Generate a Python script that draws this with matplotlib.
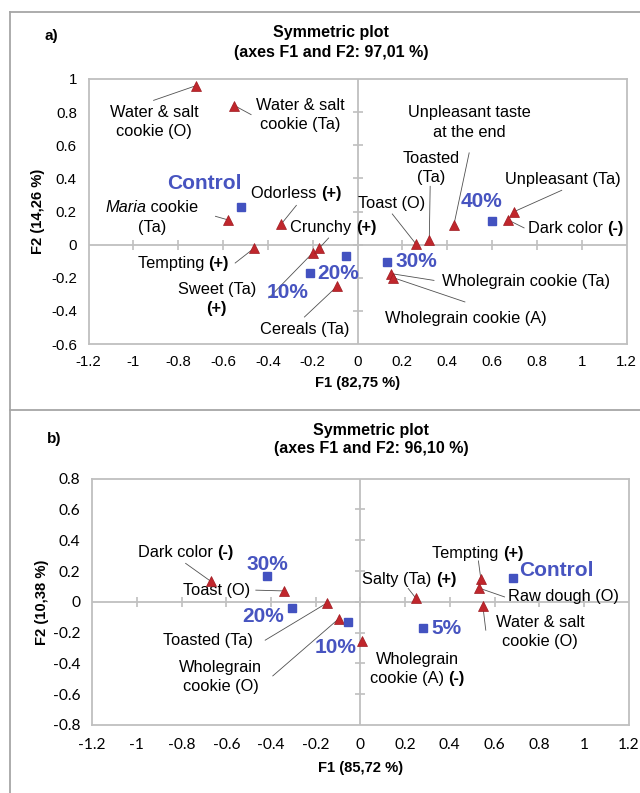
import numpy as np
import matplotlib
matplotlib.use("Agg")
import matplotlib.pyplot as plt
from matplotlib.lines import Line2D
from matplotlib.offsetbox import TextArea, HPacker, VPacker, AnnotationBbox

plt.rcParams['font.family'] = ['Liberation Sans', 'DejaVu Sans']

# ---------------- DATA ----------------
# Panel a
a_attr_names = ["Water & salt cookie (O)", "Water & salt cookie (Ta)", "Maria cookie (Ta)",
                "Odorless (+)", "Tempting (+)", "Sweet (Ta) (+)", "Crunchy (+)", "Cereals (Ta)",
                "Toast (O)", "Toasted (Ta)", "Unpleasant taste at the end", "Dark color (-)",
                "Unpleasant (Ta)", "Wholegrain cookie (Ta)", "Wholegrain cookie (A)"]
a_attr_x = [-0.72, -0.55, -0.58, -0.34, -0.46, -0.20, -0.17, -0.09,
            0.26, 0.32, 0.43, 0.67, 0.70, 0.15, 0.16]
a_attr_y = [0.96, 0.84, 0.15, 0.125, -0.02, -0.05, -0.02, -0.25,
            0.005, 0.025, 0.12, 0.15, 0.20, -0.175, -0.20]
a_prod_names = ["Control", "10%", "20%", "30%", "40%"]
a_prod_x = [-0.52, -0.05, -0.21, 0.13, 0.60]
a_prod_y = [0.23, -0.07, -0.17, -0.105, 0.145]

# Panel b
b_attr_names = ["Dark color (-)", "Toast (O)", "Toasted (Ta)", "Wholegrain cookie (O)",
                "Wholegrain cookie (A) (-)", "Salty (Ta) (+)", "Tempting (+)",
                "Raw dough (O)", "Water & salt cookie (O)"]
b_attr_x = [-0.67, -0.343, -0.148, -0.097, 0.009, 0.248, 0.539, 0.53, 0.548]
b_attr_y = [0.134, 0.071, -0.006, -0.11, -0.253, 0.024, 0.147, 0.09, -0.028]
b_prod_names = ["Control", "5%", "10%", "20%", "30%"]
b_prod_x = [0.683, 0.278, -0.055, -0.305, -0.416]
b_prod_y = [0.156, -0.167, -0.13, -0.041, 0.167]

ticks_x = [-1.2, -1.0, -0.8, -0.6, -0.4, -0.2, 0.0, 0.2, 0.4, 0.6, 0.8, 1.0, 1.2]
a_ticks_y = [-0.6, -0.4, -0.2, 0.0, 0.2, 0.4, 0.6, 0.8, 1.0]
b_ticks_y = [-0.8, -0.6, -0.4, -0.2, 0.0, 0.2, 0.4, 0.6, 0.8]

# ---------------- LAYOUT (label rich-text, text pos, leader start) ----------------
N, B, I = 'n', 'b', 'i'
a_attr_labels = [
    ([[("Water & salt", N)], [("cookie (O)", N)]], (-0.908, 0.738), (-0.910, 0.871)),
    ([[("Water & salt", N)], [("cookie (Ta)", N)]], (-0.257, 0.782), (-0.475, 0.785)),
    ([[("Maria", I), (" cookie", N)], [("(Ta)", N)]], (-0.917, 0.164), (-0.634, 0.171)),
    ([[("Odorless ", N), ("(+)", B)]], (-0.273, 0.306), (-0.273, 0.237)),
    ([[("Tempting ", N), ("(+)", B)]], (-0.777, -0.115), (-0.546, -0.111)),
    ([[("Sweet (Ta)", N)], [("(+)", B)]], (-0.628, -0.329), (-0.396, -0.322)),
    ([[("Crunchy ", N), ("(+)", B)]], (-0.108, 0.103), (-0.129, 0.040)),
    ([[("Cereals (Ta)", N)]], (-0.235, -0.513), (-0.237, -0.437)),
    ([[("Toast (O)", N)]], (0.153, 0.249), (0.155, 0.185)),
    ([[("Toasted", N)], [("(Ta)", N)]], (0.328, 0.464), (0.324, 0.352)),
    ([[("Unpleasant taste", N)], [("at the end", N)]], (0.500, 0.737), (0.498, 0.554)),
    ([[("Dark color ", N), ("(-)", B)]], (0.972, 0.097), (0.743, 0.101)),
    ([[("Unpleasant (Ta)", N)]], (0.918, 0.393), (0.911, 0.328)),
    ([[("Wholegrain cookie (Ta)", N)]], (0.751, -0.225), (0.341, -0.216)),
    ([[("Wholegrain cookie (A)", N)]], (0.483, -0.449), (0.479, -0.346)),
]
a_prod_label_pos = [(-0.685, 0.368), (-0.312, -0.292), (-0.085, -0.175), (0.262, -0.101), (0.551, 0.261)]

b_attr_labels = [
    ([[("Dark color ", N), ("(-)", B)]], (-0.782, 0.318), (-0.782, 0.250)),
    ([[("Toast (O)", N)]], (-0.642, 0.071), (-0.468, 0.076)),
    ([[("Toasted (Ta)", N)]], (-0.681, -0.253), (-0.426, -0.249)),
    ([[("Wholegrain", N)], [("cookie (O)", N)]], (-0.626, -0.488), (-0.392, -0.481)),
    ([[("Wholegrain", N)], [("cookie (A) ", N), ("(-)", B)]], (0.254, -0.436), None),
    ([[("Salty (Ta) ", N), ("(+)", B)]], (0.219, 0.146), (0.214, 0.087)),
    ([[("Tempting ", N), ("(+)", B)]], (0.524, 0.312), (0.528, 0.266)),
    ([[("Raw dough (O)", N)]], (0.908, 0.032), (0.645, 0.032)),
    ([[("Water & salt", N)], [("cookie (O)", N)]], (0.803, -0.194), (0.561, -0.184)),
]
b_prod_label_pos = [(0.875, 0.206), (0.387, -0.175), (-0.109, -0.296), (-0.434, -0.097), (-0.417, 0.245)]

RED = '#C0262C'
BLUE = '#4352C0'
BLUE_TXT = '#4754C0'
GRAY = '#BFBFBF'
W, H = 640, 793
LBL_FS = 11.8

fig = plt.figure(figsize=(W / 100, H / 100), dpi=100)

def fpx(x, y):
    return x / W, 1 - y / H

# frame lines
for (x0, y0, x1, y1) in [(10, 12, 640, 12), (10, 12, 10, 793), (10, 409.5, 640, 409.5)]:
    fig.add_artist(Line2D([x0 / W, x1 / W], [1 - y0 / H, 1 - y1 / H], color='#A6A6A6', lw=1.3,
                          transform=fig.transFigure))

def rich(ax, lines, pos):
    rows = []
    for line in lines:
        parts = []
        for t, s in line:
            props = dict(fontsize=LBL_FS, color='black', family='Liberation Sans')
            if s == B:
                props['fontweight'] = 'bold'
            if s == I:
                props['fontstyle'] = 'italic'
            parts.append(TextArea(t, textprops=props))
        rows.append(HPacker(children=parts, sep=0, pad=0, align='baseline'))
    box = VPacker(children=rows, sep=3, pad=0, align='center')
    ab = AnnotationBbox(box, pos, xycoords='data', frameon=False, box_alignment=(0.5, 0.5), pad=0)
    ax.add_artist(ab)

def panel(rect, xlim, ylim, yticks, ax_, ay_, pnames, px_, py_, attr_labels, prod_pos,
          tick_family, xpad, ypad, tick_fs):
    ax = fig.add_axes(rect)
    ax.set_xlim(*xlim)
    ax.set_ylim(*ylim)
    for sp in ax.spines.values():
        sp.set_color(GRAY)
        sp.set_linewidth(1.3)
    ax.axhline(0, color=GRAY, lw=1.3, zorder=1)
    ax.axvline(0, color=GRAY, lw=1.3, zorder=1)
    ax.plot(ticks_x[1:-1], [0] * (len(ticks_x) - 2), ls='none', marker='|', ms=7, mew=1.2, color=GRAY, zorder=1)
    ax.plot([0] * (len(yticks) - 2), yticks[1:-1], ls='none', marker='_', ms=7, mew=1.2, color=GRAY, zorder=1)
    ax.set_xticks(ticks_x)
    ax.set_xticklabels([('%g' % round(v, 1)) for v in ticks_x])
    ax.set_yticks(yticks)
    ax.set_yticklabels([('%g' % round(v, 1)) for v in yticks])
    ax.tick_params(axis='x', length=0, pad=xpad, labelsize=tick_fs)
    ax.tick_params(axis='y', length=0, pad=ypad, labelsize=tick_fs)
    for lab in ax.get_xticklabels() + ax.get_yticklabels():
        lab.set_family(tick_family)
    # leader lines + labels
    for (lines, tpos, lstart), x, y in zip(attr_labels, ax_, ay_):
        if lstart is not None:
            ax.plot([lstart[0], x], [lstart[1], y], color='#505050', lw=0.6, zorder=2)
        rich(ax, lines, tpos)
    ax.plot(ax_, ay_, ls='none', marker='^', ms=6.5, color=RED, mec='#9E1A20', mew=0.5, zorder=4)
    ax.plot(px_, py_, ls='none', marker='s', ms=5.5, color=BLUE, mec=BLUE, zorder=4)
    for name, (tx, ty) in zip(pnames, prod_pos):
        ax.text(tx, ty, name, color=BLUE_TXT, fontsize=15, fontweight='bold', ha='center', va='center', zorder=5)
    return ax

# Panel a
ra = [88.6 / W, 1 - 344 / H, (626.5 - 88.6) / W, (344 - 79) / H]
panel(ra, (-1.2, 1.2), (-0.6, 1.0), a_ticks_y, a_attr_x, a_attr_y, a_prod_names, a_prod_x, a_prod_y,
      a_attr_labels, a_prod_label_pos, 'Liberation Sans', 8.0, 8.5, 10.8)
fig.text(*fpx(51, 36), "a)", fontsize=11, fontweight='bold', ha='center', va='center')
fig.text(*fpx(331.4, 33), "Symmetric plot", fontsize=11.5, fontweight='bold', ha='center', va='center')
fig.text(*fpx(331.4, 52), "(axes F1 and F2: 97,01 %)", fontsize=11.5, fontweight='bold', ha='center', va='center')
fig.text(*fpx(357.8, 383), "F1 (82,75 %)", fontsize=10.6, fontweight='bold', ha='center', va='center')
fig.text(*fpx(38, 211.5), "F2 (14,26 %)", fontsize=10.6, fontweight='bold', ha='center', va='center', rotation=90)

# Panel b
rb = [92.2 / W, 1 - 725 / H, (628.6 - 92.2) / W, (725 - 478.7) / H]
panel(rb, (-1.2, 1.2), (-0.8, 0.8), b_ticks_y, b_attr_x, b_attr_y, b_prod_names, b_prod_x, b_prod_y,
      b_attr_labels, b_prod_label_pos, 'Lato', 9.5, 8.5, 11.2)
fig.text(*fpx(53.9, 439), "b)", fontsize=11, fontweight='bold', ha='center', va='center')
fig.text(*fpx(371.4, 430), "Symmetric plot", fontsize=11.5, fontweight='bold', ha='center', va='center')
fig.text(*fpx(371.4, 449), "(axes F1 and F2: 96,10 %)", fontsize=11.5, fontweight='bold', ha='center', va='center')
fig.text(*fpx(360.6, 767.7), "F1 (85,72 %)", fontsize=10.6, fontweight='bold', ha='center', va='center')
fig.text(*fpx(42, 602), "F2 (10,38 %)", fontsize=10.6, fontweight='bold', ha='center', va='center', rotation=90)

fig.savefig("out.png", dpi=100)
